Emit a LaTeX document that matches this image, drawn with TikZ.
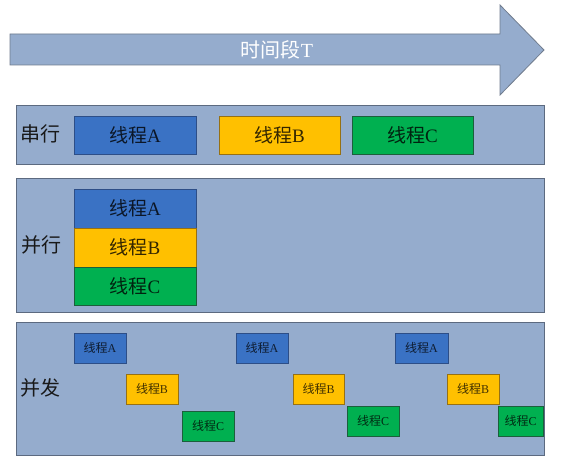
\documentclass[tikz,border=0pt]{standalone}
\usepackage{fontspec}
\setmainfont{Liberation Serif}
\newfontfamily\cjk{Noto Sans CJK SC}
\usepackage{tikz}
\usetikzlibrary{positioning}

\begin{document}
\begin{tikzpicture}[x=1pt,y=1pt,
  panel/.style={draw=panelBorder,line width=0.9pt,fill=panelFill},
  threadbig/.style={draw,line width=0.8pt,inner sep=0pt,outer sep=0pt,
    minimum width=122,minimum height=38,text=black,text opacity=0.8,
    font=\fontsize{19}{22}\selectfont},
  threadsmall/.style={draw,line width=0.8pt,inner sep=0pt,outer sep=0pt,
    minimum width=52,minimum height=30,text=black,text opacity=0.75,
    font=\fontsize{12}{14}\selectfont},
  tA/.style={fill=blueFill,draw=blueBorder},
  tB/.style={fill=yellowFill,draw=yellowBorder},
  tC/.style={fill=greenFill,draw=greenBorder},
  rowlabel/.style={inner sep=0pt,outer sep=0pt,text=black!90,
    font=\fontsize{20}{23}\selectfont\cjk}]
\definecolor{panelFill}{RGB}{149,172,205}
\definecolor{panelBorder}{RGB}{92,106,128}
\definecolor{arrowBorder}{RGB}{112,124,142}
\definecolor{blueFill}{RGB}{58,114,196}
\definecolor{blueBorder}{RGB}{45,78,135}
\definecolor{yellowFill}{RGB}{255,192,0}
\definecolor{yellowBorder}{RGB}{150,112,20}
\definecolor{greenFill}{RGB}{0,176,80}
\definecolor{greenBorder}{RGB}{28,95,60}
\path[use as bounding box,fill=white] (0,0) rectangle (586,459);

% time arrow
\path[draw=arrowBorder,line width=0.8pt,fill=panelFill] (10,394) -- (500,394) -- (500,364) -- (544,409)
  -- (500,454) -- (500,425) -- (10,425) -- cycle;
\node[text=white,inner sep=0pt,font=\fontsize{20}{23}\selectfont] (timeT) at (277,409.5) {{\cjk 时间段}T};

% panels
\path[panel] (16,295) rectangle (544,354);
\path[panel] (16,147) rectangle (544,281);
\path[panel] (16,4) rectangle (544,137);

\node[rowlabel] (serLabel) at (40,325) {串行};
\node[rowlabel] (parLabel) at (41,214) {并行};
\node[rowlabel] (conLabel) at (40,71) {并发};

% serial
\node[threadbig,tA] (serA) at (135,324) {{\cjk 线程}A};
\node[threadbig,tB,minimum width=121] (serB) at (279.5,324) {{\cjk 线程}B};
\node[threadbig,tC,minimum width=121] (serC) at (412.5,324) {{\cjk 线程}C};

% parallel
\node[threadbig,tA,minimum height=39] (parA) at (135,250.5) {{\cjk 线程}A};
\node[threadbig,tB,minimum height=39] (parB) at (135,211.5) {{\cjk 线程}B};
\node[threadbig,tC,minimum height=38] (parC) at (135,173) {{\cjk 线程}C};

% concurrent
\node[threadsmall,tA] (conA1) at (100,111) {{\cjk 线程}A};
\node[threadsmall,tB] (conB1) at (152,70) {{\cjk 线程}B};
\node[threadsmall,tC] (conC1) at (208,33) {{\cjk 线程}C};
\node[threadsmall,tA] (conA2) at (262,111) {{\cjk 线程}A};
\node[threadsmall,tB,minimum width=51] (conB2) at (318.5,70) {{\cjk 线程}B};
\node[threadsmall,tC] (conC2) at (373,38) {{\cjk 线程}C};
\node[threadsmall,tA,minimum width=53] (conA3) at (421.5,111) {{\cjk 线程}A};
\node[threadsmall,tB] (conB3) at (473,70) {{\cjk 线程}B};
\node[threadsmall,tC,minimum width=45] (conC3) at (520.5,38) {{\cjk 线程}C};
\end{tikzpicture}
\end{document}
